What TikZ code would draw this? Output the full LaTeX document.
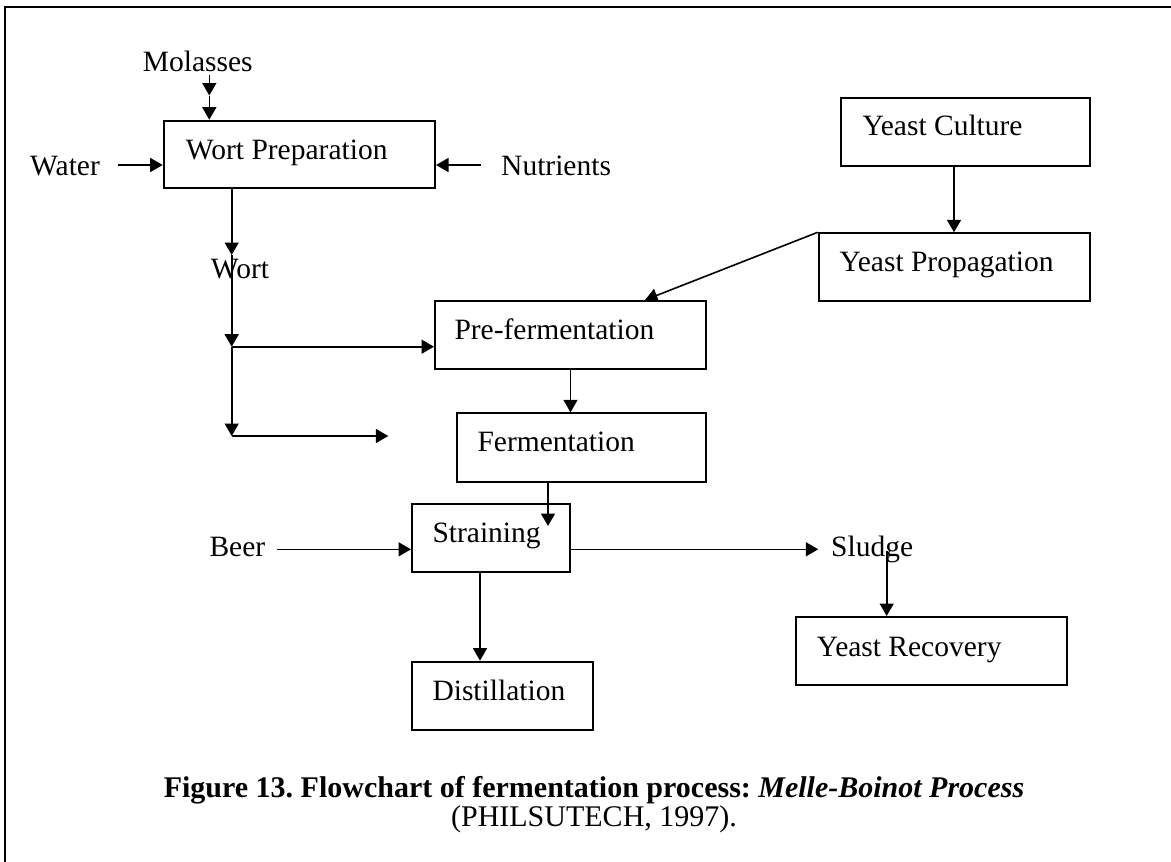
\documentclass[tikz,border=0pt]{standalone}
\usepackage{fontspec}
\setmainfont{Liberation Serif}
\usetikzlibrary{arrows.meta,fit}
\frenchspacing
\begin{document}
\begin{tikzpicture}[x=1pt,y=-1pt,
  box/.style={draw, line width=2pt, inner sep=0pt},
  lbl/.style={inner sep=0pt, anchor=base west, font=\fontsize{29.5}{34}\selectfont},
  arr/.style={line width=1.6pt, -{Triangle[length=12.5pt,width=14pt]}},
  frame/.style={line width=2.2pt}]
\useasboundingbox (0,0) rectangle (1171,862);
% frame (right and bottom sides lie outside the picture)
\coordinate (fbl) at (5,880);
\coordinate (ftl) at (5,7);
\coordinate (ftr) at (1190,7);
\draw[frame] (fbl) -- (ftl) -- (ftr);
% boxes
\node[box, fit={(163.7,120.7) (435,188.3)}] (wp) {};
\node[box, fit={(840.7,98) (1090,165.7)}] (yc) {};
\node[box, fit={(818.7,233.3) (1090,301)}] (yp) {};
\node[box, fit={(435,301) (706,369)}] (pf) {};
\node[box, fit={(457.3,413.3) (706,481.7)}] (fe) {};
\node[box, fit={(412,504.3) (570.3,572)}] (st) {};
\node[box, fit={(412,661.7) (593,730)}] (di) {};
\node[box, fit={(796,617) (1067.3,685)}] (yr) {};
% box texts
\node[lbl] (wpt) at (185.7,159.3) {Wort Preparation};
\node[lbl] (yct) at (862.3,135) {Yeast Culture};
\node[lbl] (ypt) at (839.3,271.7) {Yeast Propagation};
\node[lbl] (pft) at (454.3,339) {Pre-fermentation};
\node[lbl] (fet) at (477.3,451.7) {Fermentation};
\node[lbl] (stt) at (432.3,542.7) {Straining};
\node[lbl] (dit) at (432.3,700.3) {Distillation};
\node[lbl] (yrt) at (816.7,656) {Yeast Recovery};
% free labels
\node[lbl] (mol) at (142.7,71.7) {Molasses};
\node[lbl] (wat) at (30,175) {Water};
\node[lbl] (nut) at (501,175.7) {Nutrients};
\node[lbl] (wort) at (210.7,278.3) {Wort};
\node[lbl] (beer) at (209.3,556) {Beer};
\node[lbl] (slu) at (831,556) {Sludge};
% caption
\node[inner sep=0pt, anchor=base, font=\fontsize{30}{34}\selectfont\bfseries] (cap1) at (594,797)
  {Figure 13. Flowchart of fermentation process: \textit{Melle-Boinot Process}};
\node[inner sep=0pt, anchor=base, font=\fontsize{30}{34}\selectfont] (cap2) at (594,826.7)
  {(PHILSUTECH, 1997).};
% connectors
\coordinate (m0) at (209.3,75);
\coordinate (m1) at (209.3,95.5);
\draw[arr] (m0) -- (m1);
\draw[arr] (m1) -- (m1 |- wp.north);
\coordinate (wa) at (118.3,165);
\draw[arr] (wa) -- (wa -| wp.west);
\coordinate (nu) at (480.7,165);
\draw[arr] (nu) -- (nu -| wp.east);
\coordinate (w1) at (231.7,255);
\coordinate (w2) at (231.7,346.7);
\coordinate (w3) at (231.7,436);
\coordinate (w4) at (388.3,436);
\draw[arr] (w1 |- wp.south) -- (w1);
\draw[arr] (w1) -- (w2);
\draw[arr] (w2) -- (w3);
\draw[arr] (w2) -- (w2 -| pf.west);
\draw[arr] (w3) -- (w4);
\coordinate (yx) at (954,0);
\draw[arr] (yx |- yc.south) -- (yx |- yp.north);
\coordinate (pftip) at (645,0);
\draw[arr] (yp.north west) -- (pftip |- pf.north);
\draw[arr] (pf.south) -- (pf.south |- fe.north);
\coordinate (fs) at (548,526);
\draw[arr] (fs |- fe.south) -- (fs);
\coordinate (be) at (276.7,549.3);
\draw[arr] (be) -- (be -| st.west);
\coordinate (sl) at (818.3,549.3);
\draw[arr] (sl -| st.east) -- (sl);
\coordinate (sd) at (480,0);
\draw[arr] (sd |- st.south) -- (sd |- di.north);
\coordinate (sr) at (886.7,551);
\draw[arr] (sr) -- (sr |- yr.north);
\end{tikzpicture}
\end{document}
